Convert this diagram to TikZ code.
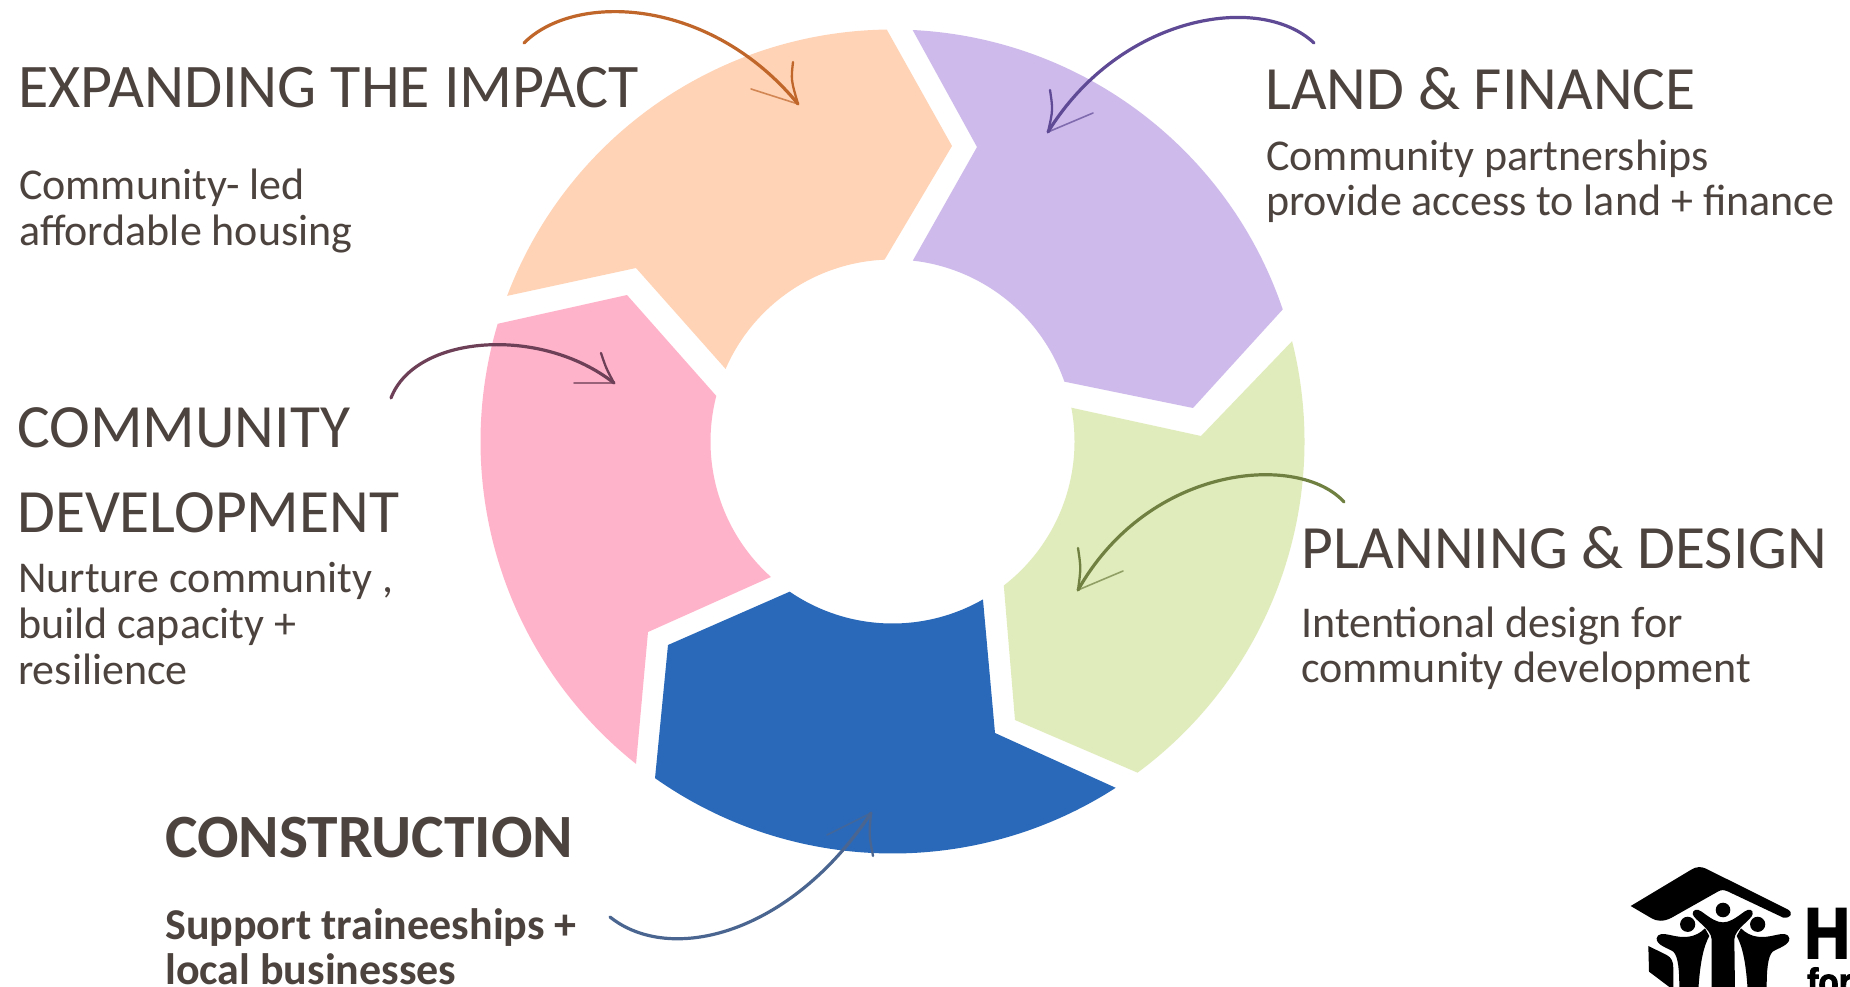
\documentclass[tikz,border=0pt]{standalone}
\usepackage{fontspec}
\setmainfont{Carlito}
\newfontfamily\logofont[UprightFont={* Bold},FakeStretch=0.88,FakeBold=2.5]{Liberation Sans}
\definecolor{txt}{HTML}{4D433E}
\definecolor{cOrange}{HTML}{FFD3B6}
\definecolor{cPurple}{HTML}{CFBBEB}
\definecolor{cGreen}{HTML}{E1ECBC}
\definecolor{cBlue}{HTML}{2A69B9}
\definecolor{cPink}{HTML}{FFB3CA}
\definecolor{aOrange}{HTML}{C0662A}
\definecolor{aPurple}{HTML}{5F4A96}
\definecolor{aGreen}{HTML}{6F8040}
\definecolor{aPink}{HTML}{6E4058}
\definecolor{aBlue}{HTML}{4A6690}
\tikzset{
  head/.style={anchor=base west,inner sep=0pt,text=txt,font=\fontsize{61.5}{61.5}\selectfont},
  body/.style={anchor=base west,inner sep=0pt,text=txt,font=\fontsize{44}{44}\selectfont},
  sketch/.style={line width=3.2pt,line cap=round},
  barb/.style={line width=2.3pt,line cap=round},
  faint/.style={line width=1.6pt,line cap=round,opacity=.7},
}
\begin{document}
\begin{tikzpicture}[x=1pt,y=-1pt]
\useasboundingbox (0,0) rectangle (1850,987);
\clip (0,0) rectangle (1850,987);
\fill[white] (0,0) rectangle (1850,987);
% ring segments
\begin{scope}[shift={(892.5,441.5)},x=1pt,y=1pt]
\fill[cOrange] (159.3:412) arc[start angle=159.3,end angle=90.8,radius=412pt]
  -- (59.5,295.5) -- (92.5:182) arc[start angle=92.5,end angle=156.5,radius=182pt]
  -- (-256.5,173.5) -- cycle;
\fill[cPurple] (87.2:412) arc[start angle=87.2,end angle=18.7,radius=412pt]
  -- (300.5,33.5) -- (19.2:182) arc[start angle=19.2,end angle=83.6,radius=182pt]
  -- (84.5,294.5) -- cycle;
\fill[cGreen] (14.1:412) arc[start angle=14.1,end angle=-53.5,radius=412pt]
  -- (122.5,-278.5) -- (-52.3:182) arc[start angle=-52.3,end angle=10.7,radius=182pt]
  -- (308.5,5.5) -- cycle;
\fill[cBlue] (-57.2:412) arc[start angle=-57.2,end angle=-125.2,radius=412pt]
  -- (-224.5,-203.5) -- (-124.4:182) arc[start angle=-124.4,end angle=-60.2,radius=182pt]
  -- (102.5,-291.5) -- cycle;
\fill[cPink] (231.5:412) arc[start angle=231.5,end angle=163.4,radius=412pt]
  -- (-265.5,146.5) -- (165.5:182) arc[start angle=165.5,end angle=228.1,radius=182pt]
  -- (-244.5,-190.5) -- cycle;
\end{scope}
% text
\node[head,font=\fontsize{62}{62}\selectfont] (t1) at (18,108) {EXPANDING THE IMPACT};
\node[body] (t1a) at (19,200) {Community- led};
\node[body] (t1b) at (19,245) {affordable housing};
\node[head] (t2) at (1265,110) {LAND \& FINANCE};
\node[body] (t2a) at (1266,171) {Community partnerships};
\node[body] (t2b) at (1266,215) {provide access to land + finance};
\node[head] (t3) at (1301,568) {PLANNING \& DESIGN};
\node[body] (t3a) at (1301,637) {Intentional design for};
\node[body] (t3b) at (1301,682) {community development};
\node[head] (t4) at (17,447) {COMMUNITY};
\node[head] (t4b) at (17,532) {DEVELOPMENT};
\node[body] (t4c) at (18,592) {Nurture community ,};
\node[body] (t4d) at (18,638) {build capacity +};
\node[body] (t4e) at (18,684) {resilience};
\node[head,font=\fontsize{61.5}{61.5}\selectfont\bfseries] (t5) at (165,857) {CONSTRUCTION};
\node[body,font=\fontsize{44}{44}\selectfont\bfseries] (t5a) at (165,939) {Support traineeships +};
\node[body,font=\fontsize{44}{44}\selectfont\bfseries] (t5b) at (165,984) {local businesses};
% sketched arrows
\coordinate (oS) at (524,43); \coordinate (oT) at (798,104);
\coordinate (oB1) at (793,62); \coordinate (oB2) at (751,89);
\draw[sketch,aOrange] (oS) .. controls (575,-8) and (710,-3) .. (oT);
\draw[barb,aOrange] (oB1) .. controls (791,80) .. (oT);
\draw[faint,aOrange] (oB2) -- (oT);
\coordinate (pS) at (1314,43); \coordinate (pT) at (1048,132);
\coordinate (pB1) at (1050,90); \coordinate (pB2) at (1093,113);
\draw[sketch,aPurple] (pS) .. controls (1260,-8) and (1120,15) .. (pT);
\draw[barb,aPurple] (pB1) .. controls (1053,110) .. (pT);
\draw[faint,aPurple] (pB2) -- (pT);
\coordinate (gS) at (1344,502); \coordinate (gT) at (1078,590);
\coordinate (gB1) at (1078,548); \coordinate (gB2) at (1123,571);
\draw[sketch,aGreen] (gS) .. controls (1300,453) and (1150,463) .. (gT);
\draw[barb,aGreen] (gB1) .. controls (1081,568) .. (gT);
\draw[faint,aGreen] (gB2) -- (gT);
\coordinate (kS) at (391,398); \coordinate (kT) at (614,383);
\coordinate (kB1) at (601,353); \coordinate (kB2) at (574,383);
\draw[sketch,aPink] (kS) .. controls (415,335) and (540,325) .. (kT);
\draw[barb,aPink] (kB1) .. controls (606,368) .. (kT);
\draw[faint,aPink] (kB2) -- (kT);
\coordinate (bS) at (610,917); \coordinate (bT) at (871,813);
\coordinate (bB1) at (873,856); \coordinate (bB2) at (827,835);
\draw[sketch,aBlue] (bS) .. controls (670,965) and (790,935) .. (bT);
\draw[barb,aBlue] (bB1) .. controls (869,835) .. (bT);
\draw[faint,aBlue] (bB2) -- (bT);
% logo
\begin{scope}[shift={(1620,850)},x=0.3333pt,y=-0.3333pt]
\fill[black] (32,168) -- (212,60) .. controls (230,48) and (245,50) .. (258,56) -- (503,178)
  .. controls (520,188) and (515,205) .. (490,203) -- (325,125) .. controls (312,119) and (305,119) .. (295,124)
  -- (155,203) .. controls (130,216) and (110,214) .. (95,205) -- cycle;
\fill[black] (309,180) circle[radius=7.3pt];
\fill[black] (203,223) circle[radius=7.6pt];
\fill[black] (413,223) circle[radius=7.6pt];
% centre figure
\fill[black] (218,192) .. controls (218,178) and (232,175) .. (245,185) .. controls (275,207) and (290,217) .. (309,217)
  .. controls (328,217) and (343,207) .. (373,185) .. controls (386,175) and (400,178) .. (398,192)
  .. controls (395,210) and (345,235) .. (343,268) -- (345,420) -- (275,420) -- (275,268)
  .. controls (273,235) and (222,210) .. (218,192) -- cycle;
% left figure
\fill[black] (110,265) .. controls (112,250) and (130,250) .. (150,255) .. controls (190,265) and (225,265) .. (255,235)
  -- (268,258) .. controls (250,290) and (240,340) .. (235,420) -- (178,420) .. controls (178,360) and (175,320) .. (160,305)
  .. controls (145,295) and (108,285) .. (110,265) -- cycle;
% right figure
\fill[black] (508,265) .. controls (506,250) and (488,250) .. (468,255) .. controls (428,265) and (393,265) .. (363,235)
  -- (350,258) .. controls (368,290) and (378,340) .. (383,420) -- (440,420) .. controls (440,360) and (443,320) .. (458,305)
  .. controls (473,295) and (510,285) .. (508,265) -- cycle;
% side wall
\fill[black] (85,288) -- (140,315) .. controls (155,323) and (160,335) .. (160,355) -- (160,420) -- (87,365) -- cycle;
\end{scope}
\node[anchor=base west,inner sep=0pt,text=black,font=\logofont\fontsize{72}{72}\selectfont] (l1) at (1804,958) {Ha};
\node[anchor=base west,inner sep=0pt,text=black,font=\logofont\fontsize{38}{38}\selectfont] (l2) at (1807,995) {for};
\end{tikzpicture}
\end{document}
